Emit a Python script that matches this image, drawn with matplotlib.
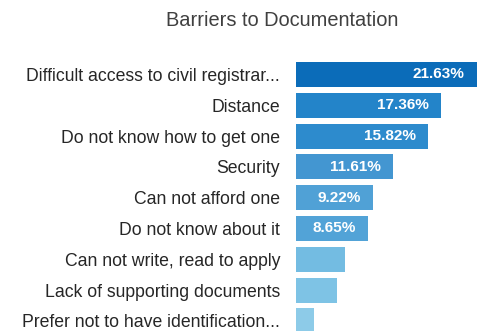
import matplotlib
matplotlib.use("Agg")
import matplotlib.pyplot as plt

categories = [
    "Difficult access to civil registrar...",
    "Distance",
    "Do not know how to get one",
    "Security",
    "Can not afford one",
    "Do not know about it",
    "Can not write, read to apply",
    "Lack of supporting documents",
    "Prefer not to have identification...",
]
values = [21.63, 17.36, 15.82, 11.61, 9.22, 8.65, 5.85, 4.9, 2.2]
show_label = [True, True, True, True, True, True, False, False, False]
colors = ["#0b6cb9", "#2384c9", "#2d8bcd", "#4396d1", "#50a1d6", "#52a3d7",
          "#73bce2", "#7ec3e5", "#8dcbe8"]

plt.rcParams["font.family"] = ["Liberation Sans", "DejaVu Sans"]

W, H = 484, 331
fig = plt.figure(figsize=(W / 100, H / 100), dpi=100)
fig.patch.set_facecolor("white")

ax_left, ax_top = 296, 59.1
ax = fig.add_axes([ax_left / W, 0, (W - ax_left) / W, (H - ax_top) / H])
ypos = list(range(len(categories)))
ax.barh(ypos, values, height=0.81, color=colors)
ax.set_xlim(0, 22.46)
ax.set_ylim(8.33, -0.5)
ax.set_yticks(ypos)
ax.set_yticklabels(categories, fontsize=12.7, color="#262626")
ax.tick_params(axis="y", length=0, pad=11.5)
ax.set_xticks([])
for s in ax.spines.values():
    s.set_visible(False)

for y, v, show in zip(ypos, values, show_label):
    if show:
        ax.annotate(f"{v:.2f}%", xy=(v, y), xytext=(-9, 0), textcoords="offset points",
                    ha="right", va="center", color="white", fontsize=11.1,
                    fontweight="bold")

fig.text(282 / W, 1 - 20 / H, "Barriers to Documentation", ha="center", va="center",
         fontsize=14.4, color="#404040")

fig.savefig("out.png", dpi=100, facecolor="white")
